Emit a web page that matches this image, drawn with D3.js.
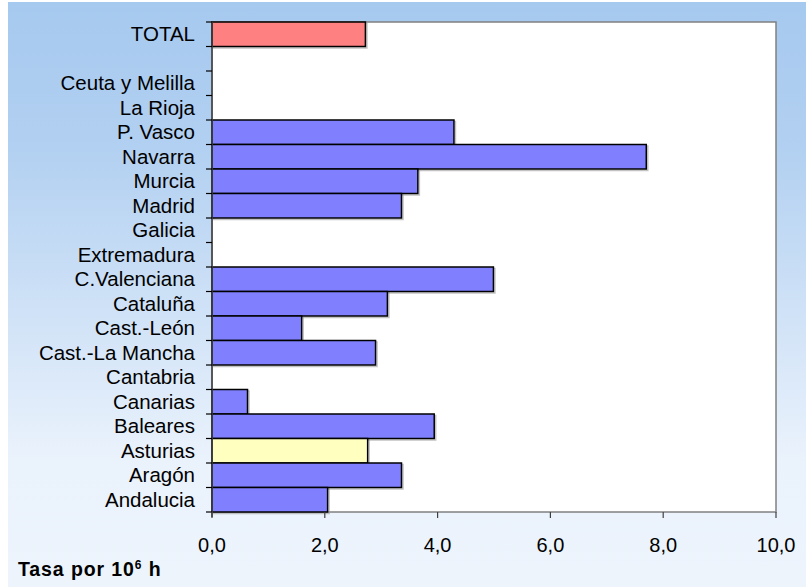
<!DOCTYPE html>
<html><head><meta charset="utf-8">
<script src="https://cdn.jsdelivr.net/npm/d3@7"></script>
<style>body{margin:0;background:#fff}svg{display:block}text{font-family:"Liberation Sans",Arial,sans-serif}</style>
</head><body>
<script>
const categories = ["TOTAL","","Ceuta y Melilla","La Rioja","P. Vasco","Navarra","Murcia","Madrid","Galicia","Extremadura","C.Valenciana","Cataluña","Cast.-León","Cast.-La Mancha","Cantabria","Canarias","Baleares","Asturias","Aragón","Andalucia"];
const values = [2.72,null,null,null,4.29,7.70,3.65,3.36,null,null,4.99,3.11,1.59,2.90,null,0.63,3.94,2.76,3.36,2.05];
const barKinds = ["total","","","","normal","normal","normal","normal","","","normal","normal","normal","normal","","normal","normal","highlight","normal","normal"];
const xTicks = [0,2,4,6,8,10];
const xTitle = "Tasa por 10";
const xTitleSup = "6";
const xTitleEnd = " h";

const W=806,H=588;
const m={left:212,top:22,right:776,bottom:512};
const colors={normal:"#8080FF",total:"#FF8080",highlight:"#FFFFC0"};

const svg=d3.select("body").append("svg").attr("width",W).attr("height",H);
const defs=svg.append("defs");
const grad=defs.append("linearGradient").attr("id","bg").attr("x1",0).attr("y1",0).attr("x2",0).attr("y2",1);
grad.append("stop").attr("offset","0%").attr("stop-color","#A6C9EF");
grad.append("stop").attr("offset","25%").attr("stop-color","#B2D0F1");
grad.append("stop").attr("offset","78%").attr("stop-color","#EAF2FC");
grad.append("stop").attr("offset","100%").attr("stop-color","#EDF4FC");
svg.append("rect").attr("x",8).attr("y",2).attr("width",W-8).attr("height",585).attr("fill","url(#bg)");

const x=d3.scaleLinear().domain([0,10]).range([m.left,m.right]);
const y=d3.scaleBand().domain(d3.range(categories.length)).range([m.top,m.bottom]).padding(0);

svg.append("rect").attr("x",m.left).attr("y",m.top).attr("width",m.right-m.left).attr("height",m.bottom-m.top)
  .attr("fill","#fff").attr("stroke","#808080").attr("stroke-width",1.5);

const data=categories.map((c,i)=>({i,c,v:values[i],k:barKinds[i]})).filter(d=>d.v!=null);
// shadow
svg.append("g").selectAll("rect").data(data).join("rect")
  .attr("x",m.left+1.5).attr("y",d=>y(d.i)+1.5).attr("width",d=>x(d.v)-m.left).attr("height",y.bandwidth())
  .attr("fill","none").attr("stroke","#999").attr("stroke-width",1.5).attr("opacity",0.6);
svg.append("g").selectAll("rect").data(data).join("rect")
  .attr("x",m.left).attr("y",d=>y(d.i)).attr("width",d=>x(d.v)-m.left).attr("height",y.bandwidth())
  .attr("fill",d=>colors[d.k]).attr("stroke","#000").attr("stroke-width",1.5);

// y axis
const ya=svg.append("g");
ya.append("line").attr("x1",m.left).attr("x2",m.left).attr("y1",m.top).attr("y2",m.bottom+5).attr("stroke","#404040").attr("stroke-width",1.5);
const bounds=d3.range(categories.length+1).map(i=>m.top+i*y.step());
ya.selectAll("line.t").data(bounds).join("line").attr("class","t")
  .attr("x1",m.left-6).attr("x2",m.left).attr("y1",d=>d).attr("y2",d=>d).attr("stroke","#000").attr("stroke-width",1.2);
ya.selectAll("text").data(categories).join("text")
  .attr("x",195).attr("y",(d,i)=>y(i)+y.bandwidth()/2).attr("dy","0.34em")
  .attr("text-anchor","end").attr("font-size",20.5).attr("fill","#000").text(d=>d);

// x axis
const xa=svg.append("g");
xa.selectAll("line").data(xTicks).join("line")
  .attr("x1",d=>x(d)).attr("x2",d=>x(d)).attr("y1",m.bottom).attr("y2",m.bottom+6).attr("stroke","#404040").attr("stroke-width",1.2);
xa.selectAll("text").data(xTicks).join("text")
  .attr("x",d=>x(d)).attr("y",552).attr("text-anchor","middle").attr("font-size",20).attr("fill","#000")
  .text(d=>d3.format(".1f")(d).replace(".",","));

const t=svg.append("text").attr("x",18).attr("y",576).attr("font-size",19.5).attr("font-weight","bold")
  .attr("letter-spacing",0.9).attr("fill","#000");
t.append("tspan").text(xTitle);
t.append("tspan").attr("font-size",12).attr("dy",-7).text(xTitleSup);
t.append("tspan").attr("dy",7).text(xTitleEnd);
</script>
</body></html>
